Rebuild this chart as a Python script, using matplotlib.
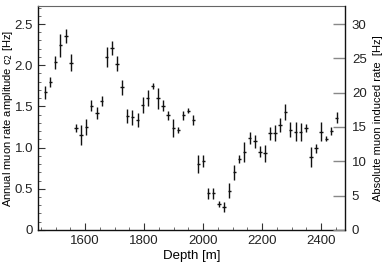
import matplotlib
matplotlib.use("Agg")
import matplotlib.pyplot as plt
from matplotlib.ticker import MultipleLocator, FuncFormatter, FixedLocator

depth = [1465, 1482, 1499, 1516, 1535, 1551, 1569, 1586, 1604, 1621, 1640, 1656,
         1673, 1691, 1707, 1725, 1743, 1760, 1778, 1795, 1812, 1829, 1847, 1864,
         1881, 1899, 1916, 1933, 1950, 1967, 1984, 2001, 2018, 2035, 2054, 2071,
         2089, 2106, 2123, 2140, 2158, 2176, 2193, 2210, 2227, 2244, 2261, 2279,
         2296, 2314, 2331, 2348, 2365, 2383, 2400, 2418, 2435, 2453]
amp = [1.67, 1.80, 2.035, 2.24, 2.36, 2.03, 1.235, 1.15, 1.25, 1.51, 1.42, 1.57,
       2.095, 2.205, 2.02, 1.73, 1.385, 1.37, 1.335, 1.52, 1.60, 1.75, 1.60, 1.51,
       1.39, 1.24, 1.215, 1.39, 1.445, 1.335, 0.80, 0.84, 0.445, 0.445, 0.315, 0.275,
       0.475, 0.70, 0.86, 0.945, 1.115, 1.075, 0.95, 0.93, 1.175, 1.175, 1.275, 1.43,
       1.215, 1.195, 1.185, 1.24, 0.89, 0.99, 1.195, 1.105, 1.205, 1.365]
amp_err = [0.08, 0.06, 0.077, 0.14, 0.085, 0.10, 0.05, 0.12, 0.10, 0.07, 0.077, 0.06,
           0.12, 0.085, 0.09, 0.095, 0.085, 0.09, 0.08, 0.10, 0.095, 0.036, 0.127, 0.07,
           0.05, 0.11, 0.036, 0.05, 0.03, 0.06, 0.105, 0.075, 0.067, 0.067, 0.04, 0.06,
           0.09, 0.09, 0.05, 0.12, 0.075, 0.08, 0.07, 0.10, 0.08, 0.10, 0.09, 0.097,
           0.09, 0.12, 0.11, 0.05, 0.12, 0.057, 0.12, 0.03, 0.05, 0.07]
depth_err = 6

left_ticks = [0, 0.5, 1.0, 1.5, 2.0, 2.5]
right_ticks = [0, 5, 10, 15, 20, 25, 30]
x_ticks = [1600, 1800, 2000, 2200, 2400]

plt.rcParams['font.family'] = ['Liberation Sans', 'DejaVu Sans']

fig = plt.figure(figsize=(3.82, 2.68), dpi=100)
ax = fig.add_axes([0.0995, 0.142, 0.8035, 0.836])

ax.errorbar(depth, amp, yerr=amp_err, xerr=depth_err, fmt='none',
            ecolor='#111111', elinewidth=1.0, capsize=0)

ymax = 2.72
ax.set_xlim(1440, 2481)
ax.set_ylim(0, ymax)
ax.set_xticks(x_ticks)
ax.yaxis.set_major_locator(FixedLocator(left_ticks))
ax.yaxis.set_major_formatter(FuncFormatter(lambda v, p: '0' if abs(v) < 1e-9 else '%.1f' % v))
ax.xaxis.set_minor_locator(MultipleLocator(50))
ax.yaxis.set_minor_locator(MultipleLocator(0.1))
ax.tick_params(axis='both', which='major', direction='in', length=5, width=0.8,
               labelsize=9.5, color='#333333', labelcolor='#222222')
ax.tick_params(axis='both', which='minor', direction='in', length=2.5, width=0.6,
               color='#555555')
ax.tick_params(axis='x', top=False, which='both')
ax.spines['top'].set_color('#666666')
ax.spines['right'].set_visible(False)
for s in ['left', 'bottom']:
    ax.spines[s].set_linewidth(1.0)
    ax.spines[s].set_color('#111111')

ax.set_xlabel('Depth [m]', fontsize=9.5, labelpad=2)
ax.set_ylabel('Annual muon rate amplitude c$_2$ [Hz]', fontsize=8)
ax.yaxis.set_label_coords(-0.075, 0.50)

ax2 = ax.twinx()
ax2.set_ylim(0, ymax * 12)
ax2.set_yticks(right_ticks)
ax2.tick_params(axis='y', direction='in', length=9, width=1.0, color='#888888',
                labelsize=9.5, pad=5, labelcolor='#222222')
ax2.spines['right'].set_color('#111111')
ax2.spines['right'].set_linewidth(1.0)
ax2.spines['top'].set_visible(False)
ax2.spines['left'].set_visible(False)
ax2.spines['bottom'].set_visible(False)
ax2.set_ylabel('Absolute muon induced rate  [Hz]', fontsize=8)
ax2.yaxis.set_label_coords(1.092, 0.50)

fig.savefig('out.png', dpi=100)
